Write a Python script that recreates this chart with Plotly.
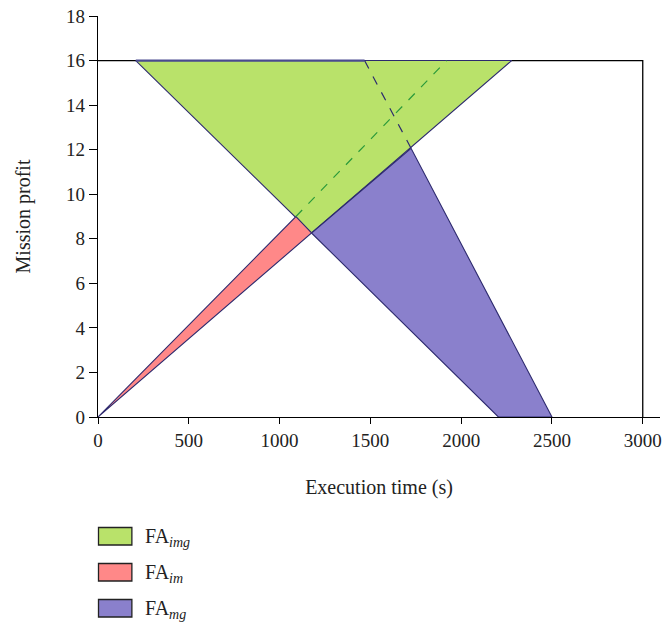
import plotly.graph_objects as go

# polygon vertices (execution time, mission profit)
img_x = [208, 2278, 1176, 208]
img_y = [16, 16, 8.26, 16]
im_x = [0, 1090, 1176, 0]
im_y = [0, 9.0, 8.26, 0]
mg_x = [1176, 1724, 2500, 2205, 1176]
mg_y = [8.26, 12.06, 0, 0, 8.26]

# reference lines
dash_green_x = [1090, 1920]
dash_green_y = [9.0, 16]
dash_dark_x = [1468, 1724]
dash_dark_y = [16, 12.06]
top_x = [208, 1468]
top_y = [16, 16]
box_x = [0, 3000, 3000]
box_y = [16, 16, 0]

x_ticks = [0, 500, 1000, 1500, 2000, 2500, 3000]
y_ticks = [0, 2, 4, 6, 8, 10, 12, 14, 16, 18]

names = ["FA<sub><i>img</i></sub>", "FA<sub><i>im</i></sub>", "FA<sub><i>mg</i></sub>"]
fills = ["#b9e26a", "#ff8888", "#8a80cc"]
edge = "#2d2a6e"
serif = "Liberation Serif"

W, H = 662, 623
ML, MR, MT, MB = 98, 0, 16, 206
PW, PH = W - ML - MR, H - MT - MB


def px_to_paper(xp, yp):
    return (xp - ML) / PW, (H - MB - yp) / PH


fig = go.Figure()
fig.add_trace(go.Scatter(x=box_x, y=box_y, mode="lines", line=dict(color="black", width=1.3),
                         showlegend=False, hoverinfo="skip"))
for i, (xs, ys) in enumerate([(img_x, img_y), (im_x, im_y), (mg_x, mg_y)]):
    fig.add_trace(go.Scatter(x=xs, y=ys, mode="lines", fill="toself", fillcolor=fills[i],
                             line=dict(color=edge, width=1.1), name=names[i], showlegend=False))
fig.add_trace(go.Scatter(x=dash_green_x, y=dash_green_y, mode="lines",
                         line=dict(color="#2a9a3a", width=1.2, dash="dash"), showlegend=False))
fig.add_trace(go.Scatter(x=dash_dark_x, y=dash_dark_y, mode="lines",
                         line=dict(color=edge, width=1.2, dash="dash"), showlegend=False))
fig.add_trace(go.Scatter(x=top_x, y=top_y, mode="lines",
                         line=dict(color="#4a4a90", width=2.2), showlegend=False))

# custom legend (boxes + labels)
shapes = []
annotations = []
for i in range(3):
    top = 527.5 + i * 36
    x0, y1 = px_to_paper(98.5, top)
    x1, y0 = px_to_paper(132, top + 17.5)
    shapes.append(dict(type="rect", xref="paper", yref="paper", x0=x0, x1=x1, y0=y0, y1=y1,
                       fillcolor=fills[i], line=dict(color="#222", width=1.3)))
    ax, ay = px_to_paper(143, top + 10)
    annotations.append(dict(xref="paper", yref="paper", x=ax, y=ay, xanchor="left",
                            yanchor="middle", text=names[i], showarrow=False,
                            font=dict(family=serif, size=20, color="#222")))

fig.update_layout(
    width=W, height=H,
    margin=dict(l=ML, r=MR, t=MT, b=MB),
    plot_bgcolor="white", paper_bgcolor="white",
    font=dict(family=serif, size=19, color="#222"),
    showlegend=False,
    shapes=shapes, annotations=annotations,
    xaxis=dict(range=[0, 3095], tickvals=x_ticks, ticklabeloverflow="allow",
               showgrid=False, zeroline=False, showline=True, linecolor="black", linewidth=1.3,
               ticks="outside", ticklen=6, tickcolor="black",
               title=dict(text="Execution time (s)", standoff=30, font=dict(size=20))),
    yaxis=dict(range=[0, 18], tickvals=y_ticks, showgrid=False, zeroline=False, showline=True,
               linecolor="black", linewidth=1.3, ticks="outside", ticklen=8, tickcolor="black",
               title=dict(text="Mission profit", standoff=30, font=dict(size=20))),
)
fig.write_html("out.html")
